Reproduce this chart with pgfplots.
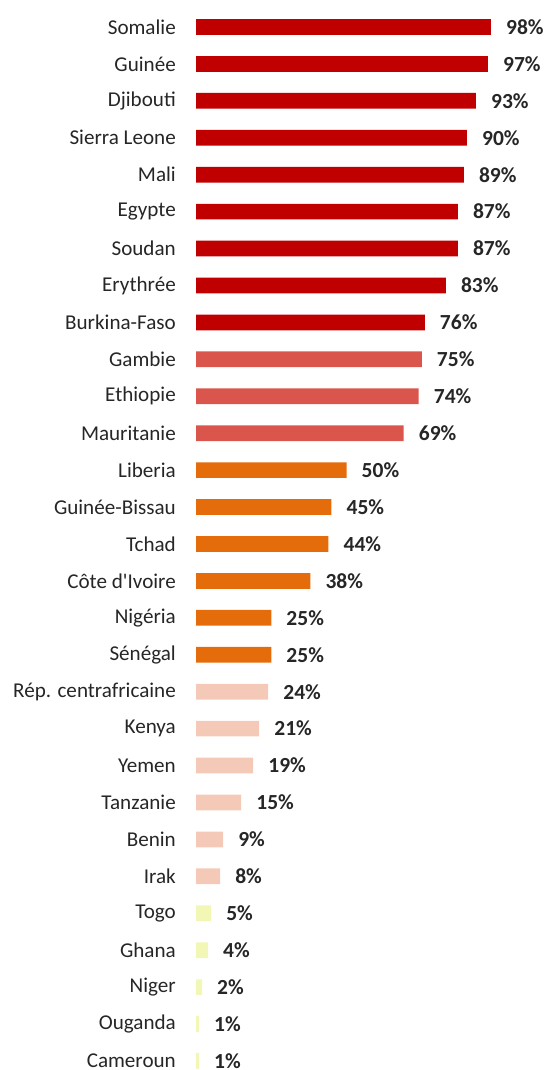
\documentclass[border=0pt]{standalone}
\usepackage{pgfplots}
\pgfplotsset{compat=1.18}
\usepackage{fontspec}
\setmainfont{Carlito}

\definecolor{darkred}{HTML}{C00000}
\definecolor{midred}{HTML}{DA564C}
\definecolor{orng}{HTML}{E46C0A}
\definecolor{pink}{HTML}{F5C9B8}
\definecolor{pyellow}{HTML}{F2F7B5}
\definecolor{labelgray}{HTML}{262626}

\begin{document}
\begin{tikzpicture}
\useasboundingbox (0,0) rectangle (544bp,1070bp);
\begin{axis}[
    at={(196bp,2bp)},
    anchor=south west,
    scale only axis,
    width=301bp,
    height=1068bp,
    xbar,
    bar width=15.7bp,
    bar shift=0pt,
    xmin=0, xmax=100,
    ymin=-0.19, ymax=28.731,
    axis line style={draw=none},
    tick style={draw=none},
    major tick length=0pt,
    xtick=\empty,
    ytick={0,...,28},
    yticklabels={Cameroun, Ouganda, Niger, Ghana, Togo, Irak, Benin, Tanzanie,
        Yemen, Kenya, Rép. centrafricaine, Sénégal, Nigéria, Côte d\textquotesingle Ivoire,
        Tchad, Guinée-Bissau, Liberia, Mauritanie, Ethiopie, Gambie,
        Burkina-Faso, Erythrée, Soudan, Egypte, Mali, Sierra Leone, Djibouti,
        Guinée, Somalie},
    yticklabel style={font=\fontsize{21.1bp}{24bp}\selectfont, text=labelgray,
        anchor=east, inner sep=0pt, xshift=-20bp},
    point meta=x,
    nodes near coords={\pgfmathprintnumber[fixed,precision=0,assume math mode=true]{\pgfplotspointmeta}\%},
    nodes near coords style={font=\fontsize{21.5bp}{24bp}\selectfont\bfseries,
        text=labelgray, anchor=west, inner sep=0pt, xshift=15bp},
    clip=false,
]
% dark red group
\addplot[fill=darkred, draw=none] coordinates {
    (98,28) (97,27) (93,26) (90,25) (89,24) (87,23) (87,22) (83,21) (76,20)
};
% medium red group
\addplot[fill=midred, draw=none] coordinates {
    (75,19) (74,18) (69,17)
};
% orange group
\addplot[fill=orng, draw=none] coordinates {
    (50,16) (45,15) (44,14) (38,13) (25,12) (25,11)
};
% light pink group
\addplot[fill=pink, draw=none] coordinates {
    (24,10) (21,9) (19,8) (15,7) (9,6) (8,5)
};
% pale yellow group
\addplot[fill=pyellow, draw=none] coordinates {
    (5,4) (4,3) (2,2) (1,1) (1,0)
};
\end{axis}
\end{tikzpicture}
\end{document}
